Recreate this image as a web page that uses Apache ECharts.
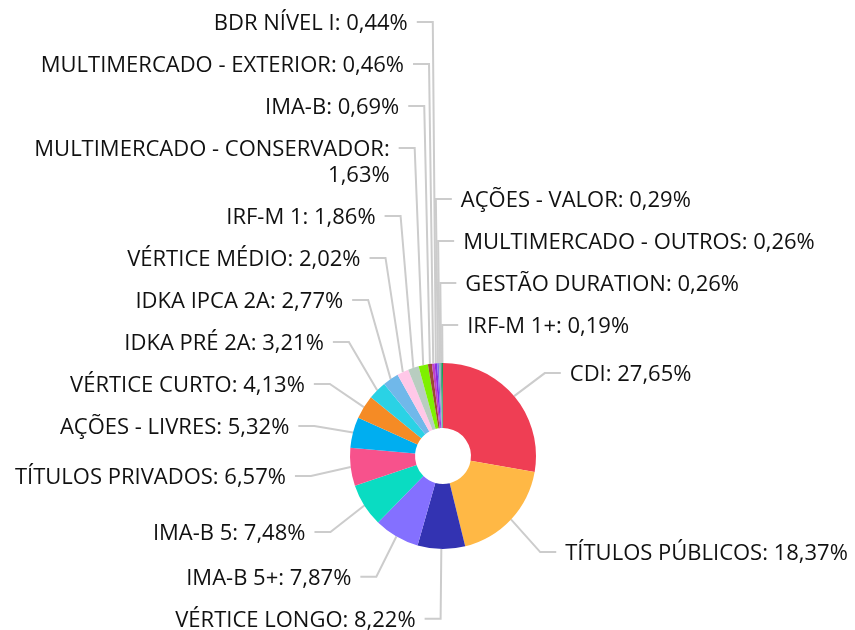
<!DOCTYPE html>
<html>
<head>
<meta charset="utf-8">
<script src="https://cdn.jsdelivr.net/npm/echarts@6/dist/echarts.min.js"></script>
<style>
html, body { margin: 0; padding: 0; background: #ffffff; }
#chart { width: 855px; height: 630px; }
</style>
</head>
<body>
<div id="chart"></div>
<script>
// ---- data ----
const categories = [
  'CDI', 'TÍTULOS PÚBLICOS', 'VÉRTICE LONGO', 'IMA-B 5+', 'IMA-B 5',
  'TÍTULOS PRIVADOS', 'AÇÕES - LIVRES', 'VÉRTICE CURTO', 'IDKA PRÉ 2A', 'IDKA IPCA 2A',
  'VÉRTICE MÉDIO', 'IRF-M 1', 'MULTIMERCADO - CONSERVADOR', 'IMA-B', 'MULTIMERCADO - EXTERIOR',
  'BDR NÍVEL I', 'AÇÕES - VALOR', 'MULTIMERCADO - OUTROS', 'GESTÃO DURATION', 'IRF-M 1+'
];
const values = [
  27.65, 18.37, 8.22, 7.87, 7.48,
  6.57, 5.32, 4.13, 3.21, 2.77,
  2.02, 1.86, 1.63, 0.69, 0.46,
  0.44, 0.29, 0.26, 0.26, 0.19
];
const sliceColors = [
  '#ef3e54', '#ffb845', '#3333b2', '#8470ff', '#0adcc2',
  '#f7528c', '#00aef0', '#f58b25', '#2ad2e5', '#70b8ea',
  '#ffc8e8', '#b8cdc0', '#7ef000', '#9b4a32', '#c040c8',
  '#8a2be2', '#7a6cf0', '#a0a8c0', '#4aa08a', '#1aa050'
];

// ---- geometry / style ----
const W = 855, H = 630;
const CX = 443, CY = 456, R_IN = 28, R_OUT = 93;
const ELBOW_R = 133, TARGET_CY = 460, TARGET_R = 135;
const SLOT = 42, LINE_H = 26, SEG = 16, GAP = 25, EDGE = 2, MIN_Y = 20, MAX_Y = 620, TEXT_DY = 2;
const FONT_SIZE = 22, FONT_FAMILY = '"Open Sans", sans-serif';

function labelText(name, v) {
  return name + ': ' + Number(v).toFixed(2).replace('.', ',') + '%';
}

const mctx = document.createElement('canvas').getContext('2d');
mctx.font = FONT_SIZE + 'px ' + FONT_FAMILY;
const tw = s => mctx.measureText(s).width;

function wrapWords(text, maxW) {
  const words = text.split(' ');
  const lines = [];
  let cur = '';
  words.forEach(w => {
    const test = cur ? cur + ' ' + w : w;
    if (cur && tw(test) > maxW) { lines.push(cur); cur = w; } else { cur = test; }
  });
  if (cur) lines.push(cur);
  return lines;
}

const total = values.reduce((a, b) => a + b, 0);
let cum = 0;
const L = values.map((v, i) => {
  const a0 = cum / total * 2 * Math.PI; cum += v;
  const a1 = cum / total * 2 * Math.PI;
  const phi = (a0 + a1) / 2; // clockwise from top, as the pie is drawn
  return { i, phi, text: labelText(categories[i], v), left: Math.sin(phi) < 0 };
});

function measureSide(o) {
  o.ex = CX + ELBOW_R * Math.sin(o.phi);
  o.tx = o.left ? o.ex - GAP : o.ex + GAP;
  o.avail = o.left ? o.tx - EDGE : W - EDGE - o.tx;
  const lines = wrapWords(o.text, o.avail);
  o.lines = lines.length;
  o.wrapped = lines.join('\n');
  o.width = Math.ceil(Math.max.apply(null, lines.map(tw))) + 4;
  o.h = SLOT + (o.lines - 1) * LINE_H;
}
L.forEach(measureSide);

const capacity = MAX_Y - MIN_Y + SLOT;
function sideHeight(left) { return L.filter(o => o.left === left).reduce((s, o) => s + o.h, 0); }
// overcrowded side: move labels of slices nearest the top to the other side
while (sideHeight(true) > capacity) {
  const cand = L.filter(o => o.left).sort((a, b) => b.phi - a.phi)[0];
  cand.left = false; measureSide(cand);
}
while (sideHeight(false) > capacity) {
  const cand = L.filter(o => !o.left).sort((a, b) => a.phi - b.phi)[0];
  cand.left = true; measureSide(cand);
}

function distribute(list) {
  if (!list.length) return;
  list.forEach(o => { o.target = TARGET_CY - TARGET_R * Math.cos(o.phi); });
  let k = 0;
  list.forEach((o, j) => { if (Math.abs(o.target - TARGET_CY) < Math.abs(list[k].target - TARGET_CY)) k = j; });
  list[k].y = list[k].target;
  for (let j = k + 1; j < list.length; j++) list[j].y = Math.max(list[j].target, list[j - 1].y + list[j - 1].h);
  for (let j = k - 1; j >= 0; j--) list[j].y = Math.min(list[j].target, list[j + 1].y - list[j].h);
  if (list[0].y < MIN_Y) {
    list[0].y = MIN_Y;
    for (let j = 1; j < list.length; j++) list[j].y = Math.max(list[j].y, list[j - 1].y + list[j - 1].h);
  }
  const n = list.length, last = list[n - 1];
  if (last.y + (last.lines - 1) * LINE_H > MAX_Y) {
    last.y = MAX_Y - (last.lines - 1) * LINE_H;
    for (let j = n - 2; j >= 0; j--) list[j].y = Math.min(list[j].y, list[j + 1].y - list[j].h);
  }
}
const leftKey = o => (o.phi < Math.PI ? o.phi + 2 * Math.PI : o.phi);
const rightKey = o => (o.phi > Math.PI ? o.phi - 2 * Math.PI : o.phi);
distribute(L.filter(o => o.left).sort((a, b) => leftKey(b) - leftKey(a)));
distribute(L.filter(o => !o.left).sort((a, b) => rightKey(a) - rightKey(b)));

L.forEach(o => {
  const sx = CX + R_OUT * Math.sin(o.phi), sy = CY - R_OUT * Math.cos(o.phi);
  const d = o.left ? -1 : 1;
  o.points = [[sx, sy], [o.ex, o.y], [o.ex + d * SEG, o.y]];
  o.textY = o.y + (o.lines - 1) * LINE_H / 2 + TEXT_DY;
});

const seriesData = categories.map((c, i) => ({
  name: c,
  value: values[i],
  itemStyle: { color: sliceColors[i] },
  label: { width: L[i].width }
}));

const chart = echarts.init(document.getElementById('chart'), null, { renderer: 'canvas', width: W, height: H });
chart.setOption({
  animation: false,
  backgroundColor: '#ffffff',
  series: [{
    type: 'pie',
    center: [CX, CY],
    radius: [R_IN, R_OUT],
    startAngle: 90,
    clockwise: true,
    avoidLabelOverlap: false,
    label: {
      show: true,
      position: 'outer',
      alignTo: 'none',
      formatter: p => L[p.dataIndex].wrapped,
      fontFamily: FONT_FAMILY,
      fontSize: FONT_SIZE,
      color: '#111111',
      lineHeight: LINE_H,
      overflow: 'none'
    },
    labelLine: {
      show: true,
      length: 10,
      length2: 10,
      smooth: false,
      lineStyle: { color: '#cccccc', width: 2 }
    },
    labelLayout: function (p) {
      const o = L[p.dataIndex];
      return {
        x: o.tx,
        y: o.textY,
        align: o.left ? 'right' : 'left',
        verticalAlign: 'middle',
        labelLinePoints: o.points
      };
    },
    emphasis: { disabled: true },
    data: seriesData
  }]
});
</script>
</body>
</html>
